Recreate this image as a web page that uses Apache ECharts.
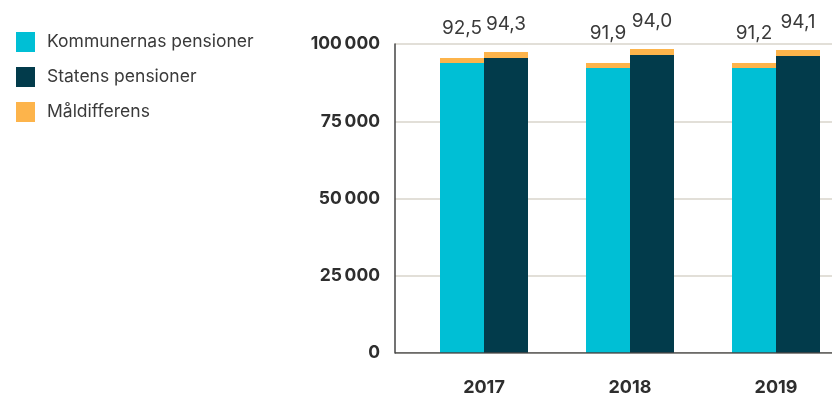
<!DOCTYPE html>
<html>
<head>
<meta charset="utf-8">
<script src="https://cdn.jsdelivr.net/npm/echarts@6/dist/echarts.min.js"></script>
<style>
  html, body { margin: 0; padding: 0; background: #fff; }
  #chart { width: 832px; height: 395px; }
</style>
</head>
<body>
<div id="chart"></div>
<script>
const years = ['2017', '2018', '2019']
const kommunValues = [93850, 92230, 92230]
const kommunDiff = [1620, 1620, 1620]
const statValues = [95470, 96440, 96120]
const statDiff = [1940, 1940, 1940]
const kommunLabels = ['92,5', '91,9', '91,2']
const statLabels = ['94,3', '94,0', '94,1']
const yTicks = [0, 25000, 50000, 75000, 100000]

const font = 'Inter, "Noto Sans", sans-serif'
const cyan = '#00BFD5'
const dark = '#023B4B'
const orange = '#FDB44B'

const chart = echarts.init(document.getElementById('chart'))

// etikett ovanför staplarna
function topLabel(texts, dist) {
  return {
    show: true,
    position: 'top',
    distance: dist,
    color: '#3a3a3a',
    fontFamily: font,
    fontSize: 19,
    formatter: p => texts[p.dataIndex]
  }
}

chart.setOption({
  animation: false,
  textStyle: { fontFamily: font },
  legend: {
    orient: 'vertical',
    left: 16,
    top: 32,
    padding: 0,
    icon: 'rect',
    itemWidth: 19,
    itemHeight: 20,
    itemGap: 15,
    textStyle: { color: '#3a3a3a', fontSize: 17.5, fontFamily: font, padding: [0, 0, 0, 7] },
    data: ['Kommunernas pensioner', 'Statens pensioner', 'Måldifferens']
  },
  grid: [
    // rutnät och y-axel
    { left: 395, right: 0, top: 44, bottom: 42, outerBoundsMode: 'none' },
    // staplarna
    { left: 411, width: 438, top: 44, bottom: 42, outerBoundsMode: 'none' }
  ],
  xAxis: [
    { gridIndex: 0, type: 'value', show: false, min: 0, max: 1 },
    {
      gridIndex: 1,
      type: 'category',
      data: years,
      axisTick: { show: false },
      axisLine: { show: false },
      axisLabel: { color: '#2e2e2e', fontWeight: 'bold', fontSize: 18, margin: 26, fontFamily: font }
    }
  ],
  yAxis: [
    {
      gridIndex: 0,
      type: 'value',
      min: 0,
      max: 100000,
      interval: 25000,
      axisLine: { show: true, onZero: false, lineStyle: { color: '#444', width: 1.5 } },
      axisTick: { show: false },
      splitLine: { lineStyle: { color: '#D9D4CB', width: 1.5 } },
      axisLabel: {
        color: '#2e2e2e',
        fontWeight: 'bold',
        fontSize: 17.5,
        margin: 15,
        fontFamily: font,
        formatter: v => yTicks.includes(v) ? String(v).replace(/\B(?=(\d{3})+(?!\d))/g, '\u2009') : ''
      }
    },
    { gridIndex: 1, type: 'value', min: 0, max: 100000, show: false }
  ],
  series: [
    {
      // x-axellinjen längs nollan
      type: 'line',
      xAxisIndex: 0,
      yAxisIndex: 0,
      symbol: 'none',
      silent: true,
      lineStyle: { color: '#444', width: 1.5 },
      data: [[0, 0], [1, 0]]
    },
    {
      name: 'Kommunernas pensioner',
      type: 'bar',
      xAxisIndex: 1,
      yAxisIndex: 1,
      stack: 'kommun',
      barWidth: 44,
      barGap: '0%',
      itemStyle: { color: cyan },
      data: kommunValues
    },
    {
      name: 'Måldifferens',
      type: 'bar',
      xAxisIndex: 1,
      yAxisIndex: 1,
      stack: 'kommun',
      barWidth: 44,
      barGap: '0%',
      itemStyle: { color: orange },
      label: topLabel(kommunLabels, 20),
      data: kommunDiff
    },
    {
      name: 'Statens pensioner',
      type: 'bar',
      xAxisIndex: 1,
      yAxisIndex: 1,
      stack: 'stat',
      barWidth: 44,
      barGap: '0%',
      itemStyle: { color: dark },
      data: statValues
    },
    {
      name: 'Måldifferens',
      type: 'bar',
      xAxisIndex: 1,
      yAxisIndex: 1,
      stack: 'stat',
      barWidth: 44,
      barGap: '0%',
      itemStyle: { color: orange },
      label: topLabel(statLabels, 18),
      data: statDiff
    }
  ]
})
</script>
</body>
</html>
